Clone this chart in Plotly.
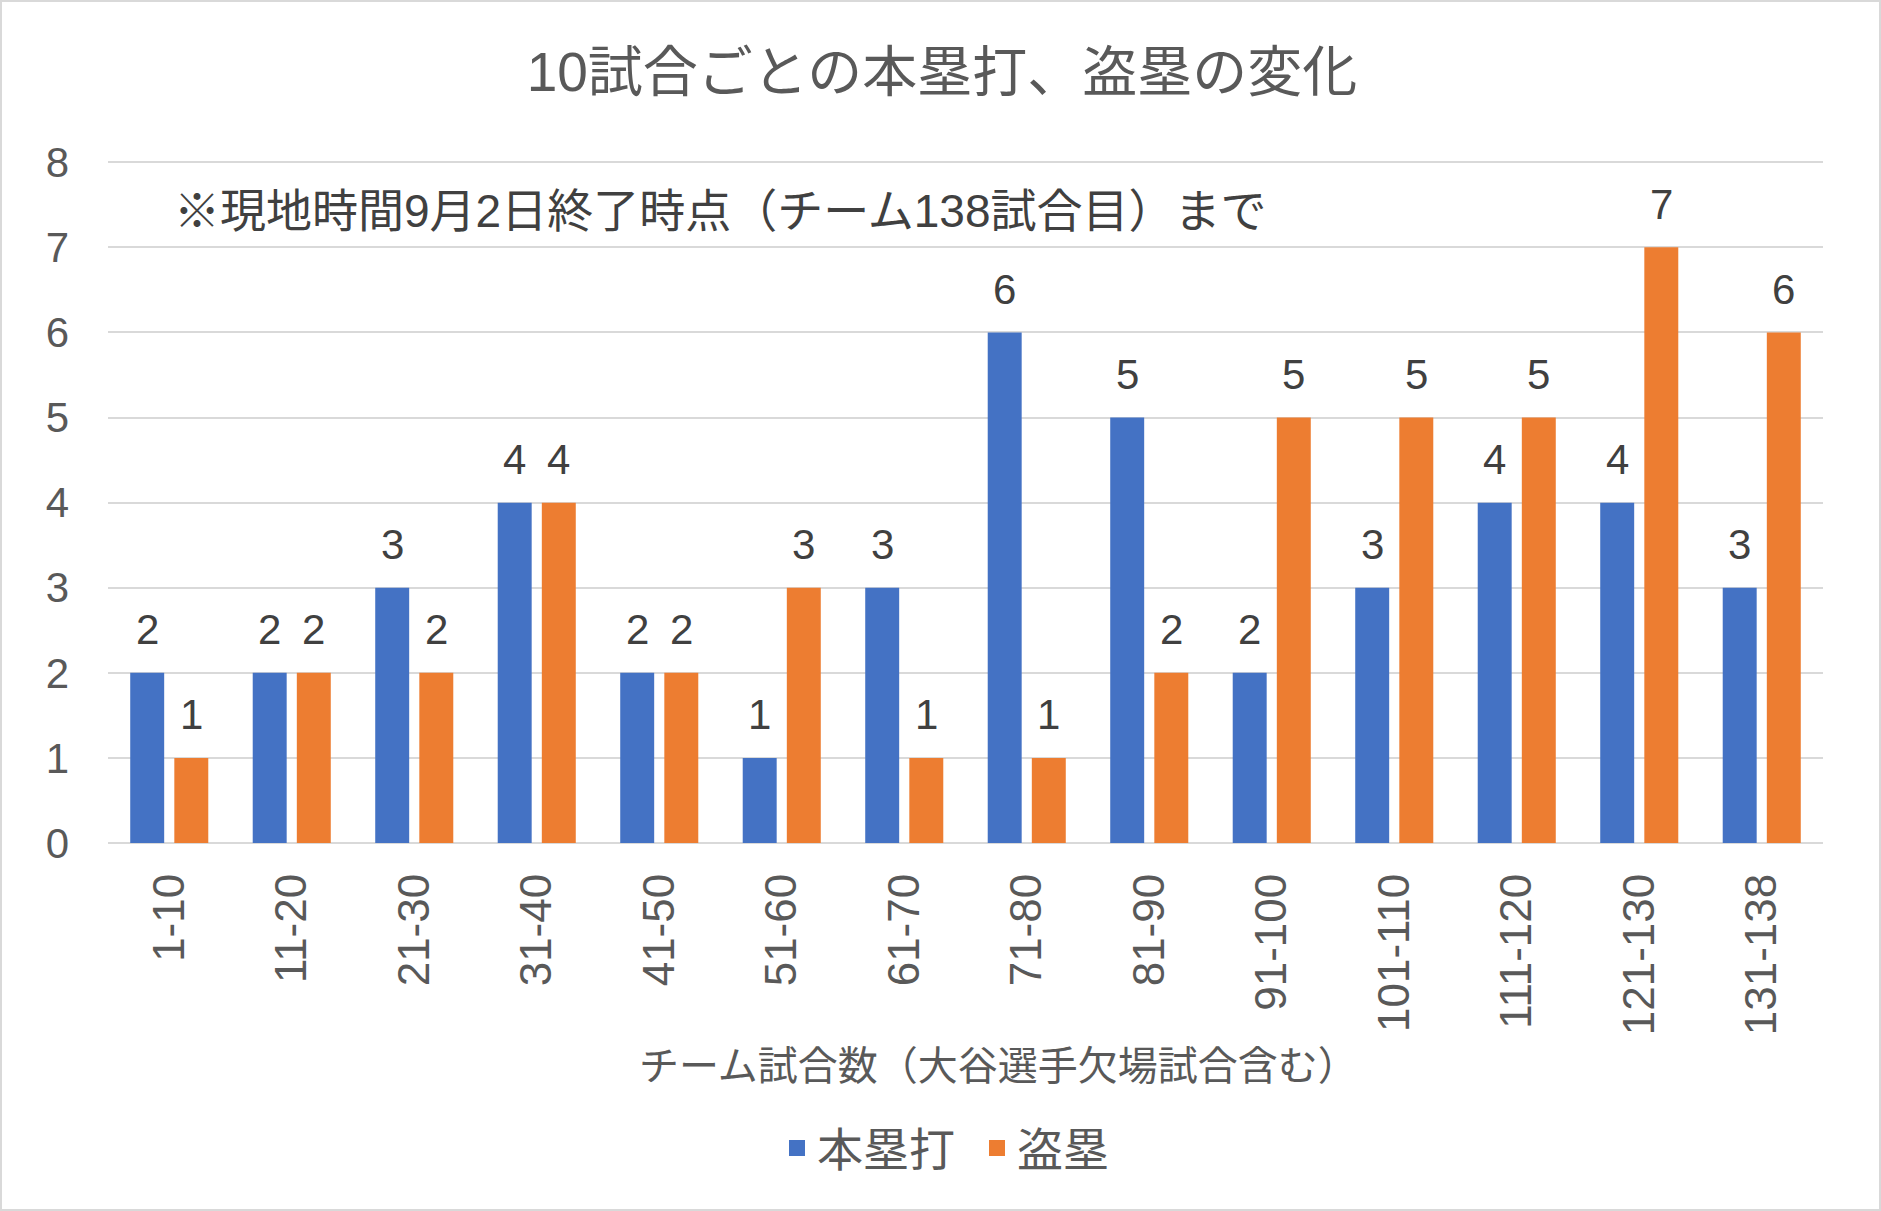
import plotly.graph_objects as go

categories = ["1-10", "11-20", "21-30", "31-40", "41-50", "51-60", "61-70",
              "71-80", "81-90", "91-100", "101-110", "111-120", "121-130", "131-138"]
home_runs = [2, 2, 3, 4, 2, 1, 3, 6, 5, 2, 3, 4, 4, 3]
stolen_bases = [1, 2, 2, 4, 2, 3, 1, 1, 2, 5, 5, 5, 7, 6]
series_names = ["本塁打", "盗塁"]
y_ticks = [0, 1, 2, 3, 4, 5, 6, 7, 8]

title_text = "10試合ごとの本塁打、盗塁の変化"
note_text = "※現地時間9月2日終了時点（チーム138試合目）まで"
x_title_text = "チーム試合数（大谷選手欠場試合含む）"

FONT = "Liberation Sans, Arial, 'Noto Sans CJK JP', sans-serif"
TXT = "#595959"
LBL = "#404040"
BLUE = "#4472C4"
ORANGE = "#ED7D31"
GRID = "#D9D9D9"

W, H = 1881, 1211
ML, MR, MT, MB = 108, 58, 158, 368
PW = W - ML - MR
PH = H - MT - MB

fig = go.Figure()
for name, vals, color in ((series_names[0], home_runs, BLUE), (series_names[1], stolen_bases, ORANGE)):
    fig.add_trace(go.Bar(x=categories, y=vals, name=name, legendgroup=name, showlegend=False,
                         marker=dict(color=color, line=dict(width=0))))
# legend entries with larger square swatches
for name, color in ((series_names[0], BLUE), (series_names[1], ORANGE)):
    fig.add_trace(go.Scatter(x=[None], y=[None], mode="markers", name=name, legendgroup=name,
                             marker=dict(symbol="square", size=18, color=color)))

annotations = []
for vals, shift in ((home_runs, -22), (stolen_bases, 22)):
    for c, v in zip(categories, vals):
        annotations.append(dict(x=c, y=v, xref="x", yref="y", text=str(v),
                                showarrow=False, xshift=shift, yshift=43,
                                xanchor="center", yanchor="middle",
                                font=dict(family=FONT, size=42, color=LBL)))

def px_to_paper_y(p):
    return (H - MB - p) / PH

def px_to_paper_x(p):
    return (p - ML) / PW

annotations.append(dict(x=px_to_paper_x(172), y=px_to_paper_y(211), xref="paper", yref="paper",
                        text=note_text, showarrow=False, xanchor="left", yanchor="middle",
                        font=dict(family=FONT, size=46, color=LBL)))
annotations.append(dict(x=px_to_paper_x(999), y=px_to_paper_y(1066), xref="paper", yref="paper",
                        text=x_title_text, showarrow=False, xanchor="center", yanchor="middle",
                        font=dict(family=FONT, size=40, color=TXT)))

fig.update_layout(
    width=W, height=H,
    margin=dict(l=ML, r=MR, t=MT, b=MB, autoexpand=False),
    paper_bgcolor="white", plot_bgcolor="white",
    barmode="group", bargap=0.28, bargroupgap=0.23,
    title=dict(text=title_text, x=942 / W, y=1 - 72 / H, xref="container", yref="container",
               xanchor="center", yanchor="middle",
               font=dict(family=FONT, size=55, color=TXT)),
    showlegend=True,
    legend=dict(orientation="h", x=px_to_paper_x(977), y=px_to_paper_y(1148),
                xanchor="center", yanchor="middle",
                font=dict(family=FONT, size=46, color=TXT), itemwidth=30,
                entrywidth=155, entrywidthmode="pixels"),
    annotations=annotations,
    shapes=[dict(type="rect", xref="paper", yref="paper",
                 x0=px_to_paper_x(1), x1=px_to_paper_x(W - 1),
                 y0=px_to_paper_y(H - 1), y1=px_to_paper_y(1),
                 line=dict(color=GRID, width=2), fillcolor="rgba(0,0,0,0)", layer="below")],
    hovermode=False,
)

fig.update_xaxes(type="category", tickangle=-90, showgrid=False, showline=False,
                 ticks="", ticklabelstandoff=21,
                 tickfont=dict(family=FONT, size=44, color=TXT))
fig.update_yaxes(range=[0, 8.05], tickmode="array", tickvals=y_ticks,
                 showgrid=True, gridcolor=GRID, gridwidth=2,
                 zeroline=True, zerolinecolor=GRID, zerolinewidth=2,
                 showline=False, ticks="", ticklabelstandoff=38,
                 tickfont=dict(family=FONT, size=42, color=TXT))

fig.write_html("out.html", config={"displayModeBar": False},
               post_script="document.body.style.margin='0';document.body.style.padding='0';")
